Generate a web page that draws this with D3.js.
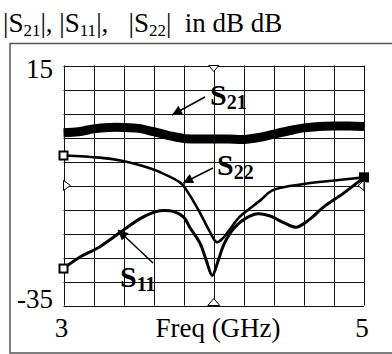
<!DOCTYPE html>
<html lang="en">
<head>
<meta charset="UTF-8">
<script src="https://d3js.org/d3.v7.min.js"></script>
<title>S-parameters</title>
<style>
  body { margin: 0; background: #fff; }
  svg text { font-family: "Liberation Serif", "Times New Roman", serif; white-space: pre; }
</style>
</head>
<body>
<svg width="392" height="354"></svg>
<script>
// values (GHz, dB)
const s21Freq = [3.0, 3.1, 3.2, 3.3, 3.4, 3.5, 3.6, 3.7, 3.8, 3.9, 4.0, 4.1, 4.2, 4.3, 4.4, 4.5, 4.6, 4.7, 4.8, 4.9, 5.0];
const s21Db   = [1.0, 1.2, 1.8, 2.1, 2.1, 1.9, 1.2, 0.4, -0.2, -0.3, -0.3, -0.3, -0.4, 0.0, 0.7, 1.4, 2.0, 2.3, 2.4, 2.4, 2.3];

const s22Freq = [3.0, 3.24, 3.38, 3.51, 3.64, 3.78, 3.84, 3.91, 3.97, 4.02, 4.06, 4.11, 4.17, 4.24, 4.31, 4.39, 4.62, 4.79, 5.0];
const s22Db   = [-3.75, -4.2, -4.8, -5.8, -7.2, -9.5, -12, -15.8, -19.4, -21.8, -21, -19, -16.6, -14.8, -13.1, -11, -9.6, -9, -8.3];

const s11Freq = [3.0, 3.11, 3.24, 3.38, 3.51, 3.60, 3.66, 3.73, 3.80, 3.84, 3.91, 3.95, 3.99, 4.03, 4.07, 4.14, 4.21, 4.29, 4.37, 4.47, 4.55, 4.64, 4.73, 4.86, 5.0];
const s11Db   = [-27.3, -24.9, -22.8, -19.7, -16.9, -15.6, -15.2, -15.4, -16.6, -18.7, -22.1, -25.6, -28.75, -25.6, -22.1, -18.7, -16.9, -15.9, -16.3, -17.8, -18.7, -17, -14.5, -11.7, -8.3];

const gridFreq = [3.0, 3.2, 3.4, 3.6, 3.8, 4.0, 4.2, 4.4, 4.6, 4.8, 5.0];
const gridDb = [-35, -30, -25, -20, -15, -10, -5, 0, 5, 10, 15];
const xLabels = [3, 5];
const yLabels = [15, -35];
const markFreq = 4.0;
const markDb = -10;

const svg = d3.select("svg");

const x = d3.scaleLinear().domain([3, 5]).range([63.5, 364]);
const y = d3.scaleLinear().domain([-35, 15]).range([305.5, 65.5]);

// outer frame
svg.append("rect")
  .attr("x", 10).attr("y", 43.5)
  .attr("width", 400).attr("height", 309.5)
  .attr("fill", "none").attr("stroke", "#555").attr("stroke-width", 1.5);

// title
const title = svg.append("text").attr("x", 3).attr("y", 31.5).style("font-size", "27px");
function sub(t, txt) {
  t.append("tspan").attr("dy", 4).style("font-size", "17px").text(txt);
}
title.append("tspan").text("|S");
sub(title, "21");
title.append("tspan").attr("dy", -4).text("|, |S");
sub(title, "11");
title.append("tspan").attr("dy", -4).text("|,   |S");
sub(title, "22");
title.append("tspan").attr("dy", -4).text("|  in dB dB");

// grid
const grid = svg.append("g").attr("stroke", "#111").attr("stroke-width", 1);
grid.selectAll(".v").data(gridFreq).join("line")
  .attr("x1", d => Math.round(x(d)) + 0.5).attr("x2", d => Math.round(x(d)) + 0.5)
  .attr("y1", y(15)).attr("y2", y(-35));
grid.selectAll(".h").data(gridDb).join("line")
  .attr("y1", d => Math.round(y(d)) + 0.5).attr("y2", d => Math.round(y(d)) + 0.5)
  .attr("x1", x(3)).attr("x2", x(5));

// axis labels
svg.selectAll(".xl").data(xLabels).join("text")
  .attr("x", d => x(d) - 2).attr("y", 337)
  .attr("text-anchor", "middle").style("font-size", "27px")
  .text(d => d);
svg.selectAll(".yl").data(yLabels).join("text")
  .attr("x", 53).attr("y", d => d == 15 ? 78 : 308)
  .attr("text-anchor", "end").style("font-size", "27px")
  .text(d => d);
svg.append("text").attr("x", 218).attr("y", 337)
  .attr("text-anchor", "middle").style("font-size", "27px")
  .text("Freq (GHz)");

// curves
function curve(fr, db, w) {
  const pts = fr.map((f, i) => [f, db[i]]);
  svg.append("path")
    .datum(pts)
    .attr("fill", "none").attr("stroke", "#000").attr("stroke-width", w)
    .attr("stroke-linejoin", "round")
    .attr("d", d3.line().x(d => x(d[0])).y(d => y(d[1])).curve(d3.curveCatmullRom));
}
curve(s21Freq, s21Db, 9);
curve(s22Freq, s22Db, 2.6);
curve(s11Freq, s11Db, 3);

// markers: open squares at start, filled square at end
function square(f, db, filled) {
  svg.append("rect")
    .attr("x", x(f) - 4).attr("y", y(db) - 4)
    .attr("width", 8).attr("height", 8)
    .attr("fill", filled ? "#000" : "#fff").attr("stroke", "#000").attr("stroke-width", 2);
}
square(s22Freq[0], s22Db[0], false);
square(s11Freq[0], s11Db[0], false);
square(s22Freq[s22Freq.length - 1], s22Db[s22Db.length - 1], true);

// little open triangles on the frame
function tri(pts) {
  svg.append("path").attr("d", "M" + pts.join("L") + "Z")
    .attr("fill", "#fff").attr("stroke", "#000").attr("stroke-width", 1);
}
const mx = x(markFreq), my = y(markDb);
tri([[mx - 5, y(15)], [mx + 5, y(15)], [mx, y(15) + 6]]);
tri([[mx - 6, y(-35)], [mx + 6, y(-35)], [mx, y(-35) - 7]]);
tri([[x(3), my - 5], [x(3), my + 5], [x(3) + 7, my]]);
tri([[x(5), my - 5], [x(5), my + 5], [x(5) - 6, my]]);

// arrows
svg.append("defs").append("marker")
  .attr("id", "ah").attr("viewBox", "0 0 10 10")
  .attr("refX", 10).attr("refY", 5)
  .attr("markerWidth", 12).attr("markerHeight", 10)
  .attr("markerUnits", "userSpaceOnUse")
  .attr("orient", "auto")
  .append("path").attr("d", "M0,0L10,5L0,10Z").attr("fill", "#000");

const arrows = [
  [205, 97, 172, 115],
  [213, 168, 183, 183],
  [153, 263, 118, 230]
];
svg.selectAll(".arr").data(arrows).join("line")
  .attr("x1", d => d[0]).attr("y1", d => d[1])
  .attr("x2", d => d[2]).attr("y2", d => d[3])
  .attr("stroke", "#000").attr("stroke-width", 1.5)
  .attr("marker-end", "url(#ah)");

// series labels
const labels = [
  ["21", 210, 105],
  ["22", 217, 175],
  ["11", 120, 287]
];
labels.forEach(l => {
  const t = svg.append("text").attr("x", l[1]).attr("y", l[2])
    .style("font-weight", "bold").style("font-size", "30px");
  t.append("tspan").text("S");
  t.append("tspan").attr("dy", 4).style("font-size", "20px").text(l[0]);
});
</script>
</body>
</html>
